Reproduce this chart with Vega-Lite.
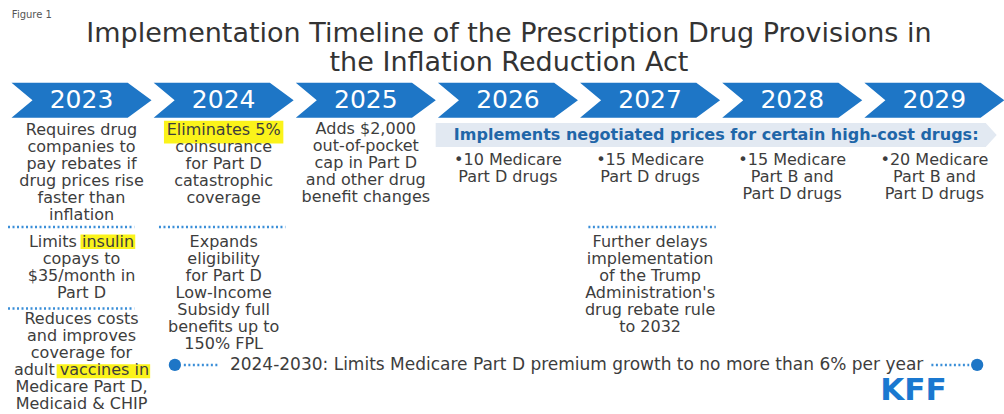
{
  "$schema": "https://vega.github.io/schema/vega-lite/v6.json",
  "width": 1004,
  "height": 414,
  "autosize": {"type": "fit", "contains": "padding"},
  "padding": 0,
  "background": "white",
  "config": {"view": {"stroke": null}},
  "datasets": {
    "figure": [{"year": 2022.51, "line": -5.75, "text": "Figure 1"}],
    "titles": [
      {"year": 2026.007, "line": -4.62, "text": "Implementation Timeline of the Prescription Drug Provisions in"},
      {"year": 2026.007, "line": -2.95, "text": "the Inflation Reduction Act"}
    ],
    "years": [
      {"year": 2023, "line": -0.75}, {"year": 2024, "line": -0.75}, {"year": 2025, "line": -0.75},
      {"year": 2026, "line": -0.75}, {"year": 2027, "line": -0.75}, {"year": 2028, "line": -0.75},
      {"year": 2029, "line": -0.75}
    ],
    "band": [{"year": 2027.465, "line": 1.3, "text": "Implements negotiated prices for certain high-cost drugs:"}],
    "highlights": [
      {"year": 2023.58, "year2": 2024.42, "line": 0.45, "line2": 1.8},
      {"year": 2022.993, "year2": 2023.378, "line": 7.15, "line2": 8.0},
      {"year": 2022.825, "year2": 2023.483, "line": 14.78, "line2": 15.6}
    ],
    "body": [
      {"year": 2023, "line": 1, "text": "Requires drug"},
      {"year": 2023, "line": 2, "text": "companies to"},
      {"year": 2023, "line": 3, "text": "pay rebates if"},
      {"year": 2023, "line": 4, "text": "drug prices rise"},
      {"year": 2023, "line": 5, "text": "faster than"},
      {"year": 2023, "line": 6, "text": "inflation"},
      {"year": 2023, "line": 7.6, "text": "Limits insulin"},
      {"year": 2023, "line": 8.6, "text": "copays to"},
      {"year": 2023, "line": 9.6, "text": "$35/month in"},
      {"year": 2023, "line": 10.6, "text": "Part D"},
      {"year": 2023, "line": 12.1, "text": "Reduces costs"},
      {"year": 2023, "line": 13.1, "text": "and improves"},
      {"year": 2023, "line": 14.1, "text": "coverage for"},
      {"year": 2023, "line": 15.1, "text": "adult vaccines in"},
      {"year": 2023, "line": 16.1, "text": "Medicare Part D,"},
      {"year": 2023, "line": 17.1, "text": "Medicaid & CHIP"},
      {"year": 2024, "line": 1, "text": "Eliminates 5%"},
      {"year": 2024, "line": 2, "text": "coinsurance"},
      {"year": 2024, "line": 3, "text": "for Part D"},
      {"year": 2024, "line": 4, "text": "catastrophic"},
      {"year": 2024, "line": 5, "text": "coverage"},
      {"year": 2024, "line": 7.6, "text": "Expands"},
      {"year": 2024, "line": 8.6, "text": "eligibility"},
      {"year": 2024, "line": 9.6, "text": "for Part D"},
      {"year": 2024, "line": 10.6, "text": "Low-Income"},
      {"year": 2024, "line": 11.6, "text": "Subsidy full"},
      {"year": 2024, "line": 12.6, "text": "benefits up to"},
      {"year": 2024, "line": 13.6, "text": "150% FPL"},
      {"year": 2025, "line": 0.95, "text": "Adds $2,000"},
      {"year": 2025, "line": 1.95, "text": "out-of-pocket"},
      {"year": 2025, "line": 2.95, "text": "cap in Part D"},
      {"year": 2025, "line": 3.95, "text": "and other drug"},
      {"year": 2025, "line": 4.95, "text": "benefit changes"},
      {"year": 2026, "line": 2.75, "text": "•10 Medicare"},
      {"year": 2026, "line": 3.75, "text": "Part D drugs"},
      {"year": 2027, "line": 2.75, "text": "•15 Medicare"},
      {"year": 2027, "line": 3.75, "text": "Part D drugs"},
      {"year": 2027, "line": 7.6, "text": "Further delays"},
      {"year": 2027, "line": 8.6, "text": "implementation"},
      {"year": 2027, "line": 9.6, "text": "of the Trump"},
      {"year": 2027, "line": 10.6, "text": "Administration's"},
      {"year": 2027, "line": 11.6, "text": "drug rebate rule"},
      {"year": 2027, "line": 12.6, "text": "to 2032"},
      {"year": 2028, "line": 2.75, "text": "•15 Medicare"},
      {"year": 2028, "line": 3.75, "text": "Part B and"},
      {"year": 2028, "line": 4.75, "text": "Part D drugs"},
      {"year": 2029, "line": 2.75, "text": "•20 Medicare"},
      {"year": 2029, "line": 3.75, "text": "Part B and"},
      {"year": 2029, "line": 4.75, "text": "Part D drugs"}
    ],
    "seps": [
      {"year": 2022.483, "year2": 2023.371, "line": 6.7},
      {"year": 2022.483, "year2": 2023.371, "line": 11.5},
      {"year": 2023.545, "year2": 2024.434, "line": 6.7},
      {"year": 2026.566, "year2": 2027.462, "line": 6.7},
      {"year": 2023.72, "year2": 2023.965, "line": 14.82},
      {"year": 2028.979, "year2": 2029.245, "line": 14.82}
    ],
    "dots": [{"year": 2023.657, "line": 14.82}, {"year": 2029.301, "line": 14.82}],
    "bottom": [{"year": 2026.483, "line": 14.82, "text": "2024-2030: Limits Medicare Part D premium growth to no more than 6% per year"}],
    "logo": [{"year": 2028.853, "line": 16.35, "text": "KFF"}]
  },
  "encoding": {
    "x": {"field": "year", "type": "quantitative", "axis": null, "scale": {"domain": [2022.4266, 2029.4476], "nice": false, "zero": false}},
    "y": {"field": "line", "type": "quantitative", "axis": null, "scale": {"domain": [-6.647, 17.706], "reverse": true, "nice": false, "zero": false}}
  },
  "layer": [
    {
      "data": {"name": "band"},
      "mark": {"type": "point", "filled": true, "shape": "M-1,-0.0428L0.961,-0.0428L1,0L0.961,0.0428L-1,0.0428Z", "size": 314721, "color": "#e2e9f2", "opacity": 1, "strokeWidth": 0}
    },
    {
      "data": {"name": "years"},
      "mark": {"type": "point", "filled": true, "shape": "M-1,-0.25L0.66,-0.25L1,0L0.66,0.25L-1,0.25L-0.7,0Z", "size": 19600, "color": "#1e76c6", "opacity": 1, "strokeWidth": 0}
    },
    {
      "data": {"name": "highlights"},
      "mark": {"type": "rect", "color": "#fbf31a"},
      "encoding": {"x2": {"field": "year2"}, "y2": {"field": "line2"}}
    },
    {
      "data": {"name": "body"},
      "mark": {"type": "text", "font": "DejaVu Sans", "fontSize": 16, "color": "#3d3d3d", "align": "center", "baseline": "middle"},
      "encoding": {"text": {"field": "text"}}
    },
    {
      "data": {"name": "years"},
      "mark": {"type": "text", "font": "DejaVu Sans", "fontSize": 25, "color": "white", "align": "center", "baseline": "middle"},
      "encoding": {"text": {"field": "year", "type": "quantitative", "format": "d"}}
    },
    {
      "data": {"name": "band"},
      "mark": {"type": "text", "font": "DejaVu Sans", "fontWeight": "bold", "fontSize": 16, "color": "#1f66a8", "align": "center", "baseline": "middle"},
      "encoding": {"text": {"field": "text"}}
    },
    {
      "data": {"name": "titles"},
      "mark": {"type": "text", "font": "DejaVu Sans", "fontSize": 27, "color": "#333333", "align": "center", "baseline": "middle"},
      "encoding": {"text": {"field": "text"}}
    },
    {
      "data": {"name": "figure"},
      "mark": {"type": "text", "font": "DejaVu Sans", "fontSize": 10, "color": "#555555", "align": "left", "baseline": "middle"},
      "encoding": {"text": {"field": "text"}}
    },
    {
      "data": {"name": "seps"},
      "mark": {"type": "rule", "color": "#3a8ed8", "strokeWidth": 2.5, "strokeDash": [2, 2.5]},
      "encoding": {"x2": {"field": "year2"}}
    },
    {
      "data": {"name": "dots"},
      "mark": {"type": "circle", "size": 150, "color": "#1e76c6", "opacity": 1}
    },
    {
      "data": {"name": "bottom"},
      "mark": {"type": "text", "font": "DejaVu Sans", "fontSize": 17, "color": "#3d3d3d", "align": "center", "baseline": "middle"},
      "encoding": {"text": {"field": "text"}}
    },
    {
      "data": {"name": "logo"},
      "mark": {"type": "text", "font": "DejaVu Sans", "fontWeight": "bold", "fontSize": 31, "color": "#1a78d0", "align": "center", "baseline": "middle"},
      "encoding": {"text": {"field": "text"}}
    }
  ]
}
